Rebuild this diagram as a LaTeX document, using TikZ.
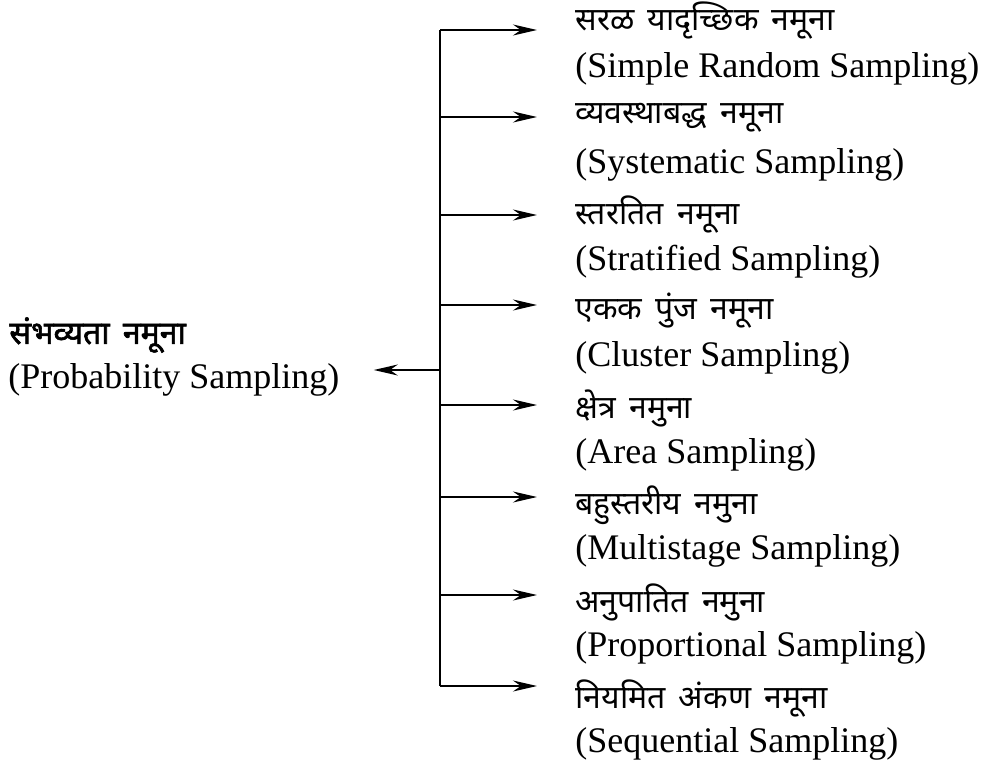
\documentclass[tikz,border=0pt]{standalone}
\usepackage{fontspec}
\setmainfont{Liberation Serif}
\newfontfamily\deva[Script=Devanagari,WordSpace=1.6]{Noto Sans}
\newfontfamily\devab[Script=Devanagari,WordSpace=1.6,FakeBold=2]{Noto Sans}
\usetikzlibrary{arrows.meta}

\begin{document}
\begin{tikzpicture}[x=0.5pt,y=-0.5pt]
\tikzstyle{every node}+=[inner sep=0pt]
\tikzstyle{hin}=[anchor=west,font=\deva\fontsize{16}{19}\selectfont]
\tikzstyle{eng}=[anchor=west,font=\fontsize{18}{22}\selectfont]
\tikzstyle{arr}=[-{Stealth[length=12pt,width=5.5pt]},line width=0.75pt,shorten >=19pt]
\useasboundingbox (0,0) rectangle (995,765);
\node [hin,font=\devab\fontsize{16}{19}\selectfont] (root) at (9,335) {संभव्यता नमूना};
\node [eng] (roote) at (8,380) {(Probability Sampling)};
\node [hin] (s1) at (575,21) {सरळ यादृच्छिक नमूना};
\node [eng] (e1) at (575,69) {(Simple Random Sampling)};
\node [hin] (s2) at (575,118) {व्यवस्थाबद्ध नमूना};
\node [eng] (e2) at (575,165) {(Systematic Sampling)};
\node [hin] (s3) at (575,215) {स्तरतित नमूना};
\node [eng] (e3) at (575,262) {(Stratified Sampling)};
\node [hin] (s4) at (575,311) {एकक पुंज नमूना};
\node [eng] (e4) at (575,358) {(Cluster Sampling)};
\node [hin] (s5) at (575,408) {क्षेत्र नमुना};
\node [eng] (e5) at (575,455) {(Area Sampling)};
\node [hin] (s6) at (575,505) {बहुस्तरीय नमुना};
\node [eng] (e6) at (575,551) {(Multistage Sampling)};
\node [hin] (s7) at (575,602) {अनुपातित नमुना};
\node [eng] (e7) at (575,648) {(Proportional Sampling)};
\node [hin] (s8) at (575,699) {नियमित अंकण नमूना};
\node [eng] (e8) at (575,744) {(Sequential Sampling)};
\coordinate (t1) at (440,30);
\coordinate (t2) at (440,117);
\coordinate (t3) at (440,215);
\coordinate (t4) at (440,305);
\coordinate (t5) at (440,405);
\coordinate (t6) at (440,497);
\coordinate (t7) at (440,595);
\coordinate (t8) at (440,686);
\coordinate (tm) at (440,370);
\draw [line width=0.75pt] (t1) -- (t8);
\draw [arr] (t1) -- (t1 -| s1.west);
\draw [arr] (t2) -- (t2 -| s2.west);
\draw [arr] (t3) -- (t3 -| s3.west);
\draw [arr] (t4) -- (t4 -| s4.west);
\draw [arr] (t5) -- (t5 -| s5.west);
\draw [arr] (t6) -- (t6 -| s6.west);
\draw [arr] (t7) -- (t7 -| s7.west);
\draw [arr] (t8) -- (t8 -| s8.west);
\draw [arr,shorten >=17pt] (tm) -- (tm -| roote.east);
\end{tikzpicture}
\end{document}
